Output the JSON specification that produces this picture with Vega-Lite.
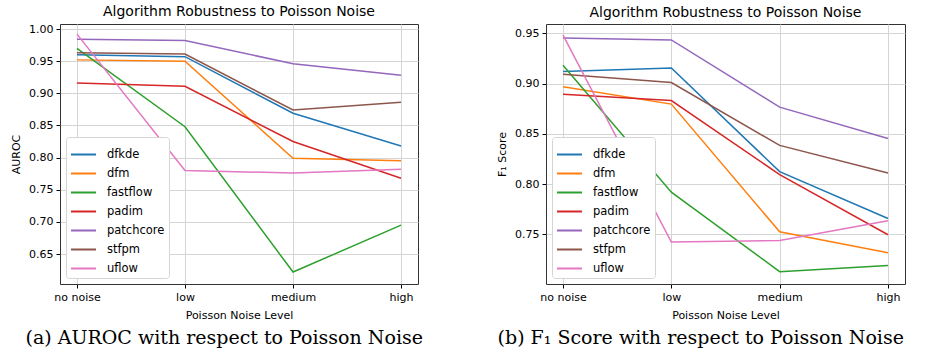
{
  "$schema": "https://vega.github.io/schema/vega-lite/v6.json",
  "padding": {"left": 10, "top": 4, "right": 0, "bottom": 0},
  "background": "white",
  "datasets": {
    "auroc": [
      {"level": "no noise", "model": "dfkde", "value": 0.960},
      {"level": "low", "model": "dfkde", "value": 0.957},
      {"level": "medium", "model": "dfkde", "value": 0.869},
      {"level": "high", "model": "dfkde", "value": 0.818},
      {"level": "no noise", "model": "dfm", "value": 0.952},
      {"level": "low", "model": "dfm", "value": 0.950},
      {"level": "medium", "model": "dfm", "value": 0.799},
      {"level": "high", "model": "dfm", "value": 0.795},
      {"level": "no noise", "model": "fastflow", "value": 0.970},
      {"level": "low", "model": "fastflow", "value": 0.848},
      {"level": "medium", "model": "fastflow", "value": 0.622},
      {"level": "high", "model": "fastflow", "value": 0.695},
      {"level": "no noise", "model": "padim", "value": 0.916},
      {"level": "low", "model": "padim", "value": 0.911},
      {"level": "medium", "model": "padim", "value": 0.825},
      {"level": "high", "model": "padim", "value": 0.768},
      {"level": "no noise", "model": "patchcore", "value": 0.984},
      {"level": "low", "model": "patchcore", "value": 0.982},
      {"level": "medium", "model": "patchcore", "value": 0.946},
      {"level": "high", "model": "patchcore", "value": 0.928},
      {"level": "no noise", "model": "stfpm", "value": 0.963},
      {"level": "low", "model": "stfpm", "value": 0.961},
      {"level": "medium", "model": "stfpm", "value": 0.874},
      {"level": "high", "model": "stfpm", "value": 0.886},
      {"level": "no noise", "model": "uflow", "value": 0.992},
      {"level": "low", "model": "uflow", "value": 0.780},
      {"level": "medium", "model": "uflow", "value": 0.776},
      {"level": "high", "model": "uflow", "value": 0.782}
    ],
    "f1": [
      {"level": "no noise", "model": "dfkde", "value": 0.912},
      {"level": "low", "model": "dfkde", "value": 0.9156},
      {"level": "medium", "model": "dfkde", "value": 0.8125},
      {"level": "high", "model": "dfkde", "value": 0.7659},
      {"level": "no noise", "model": "dfm", "value": 0.8968},
      {"level": "low", "model": "dfm", "value": 0.8796},
      {"level": "medium", "model": "dfm", "value": 0.7526},
      {"level": "high", "model": "dfm", "value": 0.7318},
      {"level": "no noise", "model": "fastflow", "value": 0.9183},
      {"level": "low", "model": "fastflow", "value": 0.792},
      {"level": "medium", "model": "fastflow", "value": 0.713},
      {"level": "high", "model": "fastflow", "value": 0.719},
      {"level": "no noise", "model": "padim", "value": 0.8895},
      {"level": "low", "model": "padim", "value": 0.8832},
      {"level": "medium", "model": "padim", "value": 0.8095},
      {"level": "high", "model": "padim", "value": 0.7497},
      {"level": "no noise", "model": "patchcore", "value": 0.9454},
      {"level": "low", "model": "patchcore", "value": 0.9434},
      {"level": "medium", "model": "patchcore", "value": 0.8766},
      {"level": "high", "model": "patchcore", "value": 0.8455},
      {"level": "no noise", "model": "stfpm", "value": 0.9093},
      {"level": "low", "model": "stfpm", "value": 0.9011},
      {"level": "medium", "model": "stfpm", "value": 0.8386},
      {"level": "high", "model": "stfpm", "value": 0.8111},
      {"level": "no noise", "model": "uflow", "value": 0.9483},
      {"level": "low", "model": "uflow", "value": 0.7424},
      {"level": "medium", "model": "uflow", "value": 0.744},
      {"level": "high", "model": "uflow", "value": 0.7635}
    ]
  },
  "hconcat": [
    {
      "title": {"text": "(a) AUROC with respect to Poisson Noise", "orient": "bottom", "anchor": "middle", "dx": 10, "offset": 8, "font": "DejaVu Serif", "fontSize": 19},
      "vconcat": [
        {
          "title": "Algorithm Robustness to Poisson Noise",
          "width": 358,
          "height": 260,
          "data": {"name": "auroc"},
          "mark": {"type": "line", "strokeWidth": 1.5},
          "encoding": {
            "x": {"field": "level", "type": "nominal", "sort": ["no noise", "low", "medium", "high"],
                  "scale": {"type": "point", "padding": 0.157},
                  "axis": {"title": "Poisson Noise Level", "labelAngle": 0}},
            "y": {"field": "value", "type": "quantitative",
                  "scale": {"domain": [0.6034, 1.0078], "nice": false, "zero": false},
                  "axis": {"title": "AUROC", "values": [0.65, 0.7, 0.75, 0.8, 0.85, 0.9, 0.95, 1.0], "format": ".2f"}},
            "color": {"field": "model", "type": "nominal",
                      "scale": {"domain": ["dfkde", "dfm", "fastflow", "padim", "patchcore", "stfpm", "uflow"],
                                "range": ["#1f77b4", "#ff7f0e", "#2ca02c", "#d62728", "#9467bd", "#8c564b", "#e377c2"]},
                      "legend": {"title": null}}
          }
        }
      ],
      "resolve": {"legend": {"color": "independent"}}
    },
    {
      "title": {"text": "(b) F₁ Score with respect to Poisson Noise", "orient": "bottom", "anchor": "middle", "dx": 0, "offset": 8, "font": "DejaVu Serif", "fontSize": 19},
      "vconcat": [
        {
          "title": "Algorithm Robustness to Poisson Noise",
          "width": 359,
          "height": 260,
          "data": {"name": "f1"},
          "mark": {"type": "line", "strokeWidth": 1.5},
          "encoding": {
            "x": {"field": "level", "type": "nominal", "sort": ["no noise", "low", "medium", "high"],
                  "scale": {"type": "point", "padding": 0.157},
                  "axis": {"title": "Poisson Noise Level", "labelAngle": 0}},
            "y": {"field": "value", "type": "quantitative",
                  "scale": {"domain": [0.7007, 0.9593], "nice": false, "zero": false},
                  "axis": {"title": "F₁ Score", "values": [0.75, 0.8, 0.85, 0.9, 0.95], "format": ".2f"}},
            "color": {"field": "model", "type": "nominal",
                      "scale": {"domain": ["dfkde", "dfm", "fastflow", "padim", "patchcore", "stfpm", "uflow"],
                                "range": ["#1f77b4", "#ff7f0e", "#2ca02c", "#d62728", "#9467bd", "#8c564b", "#e377c2"]},
                      "legend": {"title": null}}
          }
        }
      ],
      "resolve": {"legend": {"color": "independent"}}
    }
  ],
  "spacing": 73,
  "resolve": {"legend": {"color": "independent"}, "scale": {"color": "independent"}},
  "config": {
    "font": "DejaVu Sans",
    "view": {"stroke": "#333333", "strokeWidth": 1},
    "title": {"fontSize": 14, "fontWeight": "normal", "color": "#000000", "offset": 4, "font": "DejaVu Sans"},
    "axis": {
      "labelFontSize": 11, "titleFontSize": 11, "titleFontWeight": "normal",
      "labelColor": "#000000", "titleColor": "#000000",
      "domain": false, "tickColor": "#000000", "tickSize": 4,
      "gridColor": "#d5d5d5", "gridWidth": 1, "grid": true,
      "labelPadding": 3, "titlePadding": 7
    },
    "legend": {
      "orient": "bottom-left", "offset": 6, "padding": 4,
      "strokeColor": "#d5d5d5", "fillColor": "white", "cornerRadius": 3,
      "symbolType": "stroke", "symbolSize": 625, "symbolStrokeWidth": 2,
      "labelFontSize": 11.5, "labelColor": "#000000", "labelOffset": 10,
      "rowPadding": -7.8
    }
  }
}
